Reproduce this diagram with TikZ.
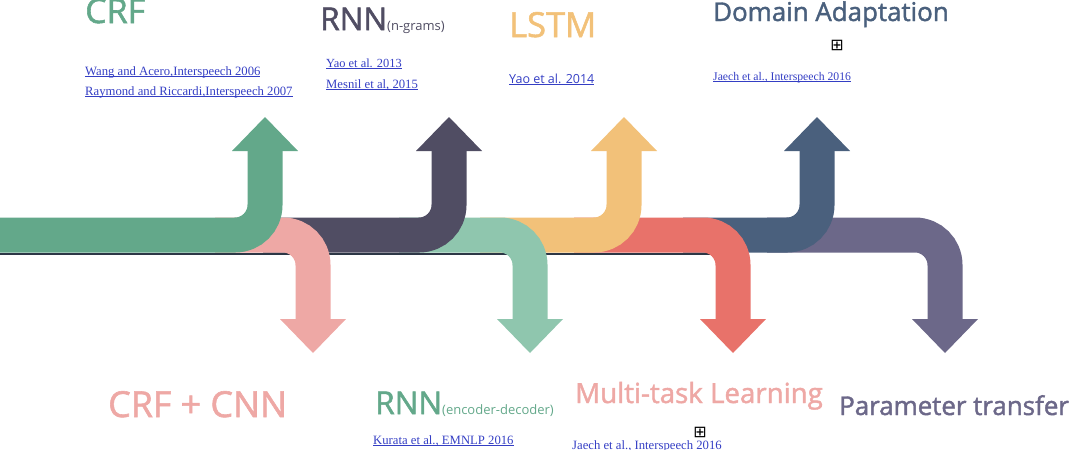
\documentclass[tikz,border=0pt]{standalone}
\usepackage{fontspec}
\setmainfont{Liberation Serif}
\newfontfamily\headfont{Open Sans}[FakeBold=1.6]
\newfontfamily\smallsans{Open Sans}
\newfontfamily\boxfont{DejaVu Sans}
\usepackage{tikz}

\definecolor{crfc}{RGB}{99,168,138}
\definecolor{crfcnnc}{RGB}{238,168,165}
\definecolor{ngramc}{RGB}{80,77,99}
\definecolor{encdecc}{RGB}{143,198,174}
\definecolor{lstmc}{RGB}{242,193,121}
\definecolor{multic}{RGB}{232,114,106}
\definecolor{domainc}{RGB}{74,96,125}
\definecolor{paramc}{RGB}{108,104,137}
\definecolor{linkblue}{RGB}{52,62,196}
\definecolor{shadowc}{RGB}{45,55,70}

\tikzset{
  band/.style={line width=35pt, rounded corners=30pt},
  milestone/.style={anchor=base west, inner sep=0pt, font=\headfont\fontsize{#1}{#1}\selectfont},
  paper/.style={anchor=base west, inner sep=0pt, text=linkblue, font=\fontsize{#1}{#1}\selectfont},
  boxmark/.style={inner sep=0pt, font=\boxfont\fontsize{16}{16}\selectfont},
}
\newcommand{\link}[1]{\underline{\smash{#1}}}

\begin{document}
\begin{tikzpicture}[x=1pt, y=-1pt]
  \useasboundingbox (0,0) rectangle (1080,450);
  \draw[shadowc, line width=2pt] (0,253.5) -- (712,253.5);

  % arrows, back to front
  \foreach \n/\s/\c/\d/\col in {param/767/945/1/paramc, domain/683/817/-1/domainc,
      multi/574/733/1/multic, lstm/480/624/-1/lstmc, encdec/399/530/1/encdecc,
      ngram/263/449/-1/ngramc, crfcnn/215/313/1/crfcnnc, crf/0/265/-1/crfc} {
    \coordinate (\n-in) at (\s,235);
    \coordinate (\n-neck) at (\c,{235+86*\d});
    \coordinate (\n-tip) at (\c,{235+118*\d});
    \draw[band, \col] (\n-in) -| (\n-neck);
    \fill[\col] (\n-tip) -- ++(-33,{-34*\d}) -- ++(66,0) -- cycle;
  }

  % top labels
  \node[milestone=34, text=crfc] (crf-name) at (85,23) {CRF};
  \node[paper=12.7] (crf-ref1) at (85,75) {\link{Wang and Acero,Interspeech 2006}};
  \node[paper=12.7] (crf-ref2) at (85,95) {\link{Raymond and Riccardi,Interspeech 2007}};

  \node[milestone=31.5, text=ngramc] (ngram-name) at (320,30) {RNN{\smallsans\fontsize{13}{13}\selectfont(n-grams)}};
  \node[paper=12.4] (ngram-ref1) at (326,67) {\link{Yao et al. 2013}};
  \node[paper=12.7] (ngram-ref2) at (326,88) {\link{Mesnil et al, 2015}};

  \node[milestone=34.5, text=lstmc] (lstm-name) at (509,37) {LSTM};
  \node[paper=12.5, font=\smallsans\fontsize{12.5}{12.5}\selectfont] (lstm-ref) at (509,83) {\link{Yao et al. 2014}};

  \node[milestone=25.9, text=domainc] (domain-name) at (713,21) {Domain Adaptation};
  \node[boxmark] (domain-mark) at (837,45) {⊞};
  \node[paper=11.7] (domain-ref) at (713,80) {\link{Jaech et al., Interspeech 2016}};

  % bottom labels
  \node[milestone=35.8, text=crfcnnc] (crfcnn-name) at (108,417) {CRF + CNN};

  \node[milestone=31.5, text=crfc] (encdec-name) at (375,414) {RNN{\smallsans\fontsize{13}{13}\selectfont(encoder-decoder)}};
  \node[paper=12.7] (encdec-ref) at (373,444) {\link{Kurata et al., EMNLP 2016}};

  \node[milestone=27.7, text=crfcnnc] (multi-name) at (575,403) {Multi-task Learning};
  \node[boxmark] (multi-mark) at (700,432) {⊞};
  \node[paper=12.7] (multi-ref) at (572,449) {\link{Jaech et al., Interspeech 2016}};

  \node[milestone=25.9, text=paramc] (param-name) at (839,415) {Parameter transfer};
\end{tikzpicture}
\end{document}
